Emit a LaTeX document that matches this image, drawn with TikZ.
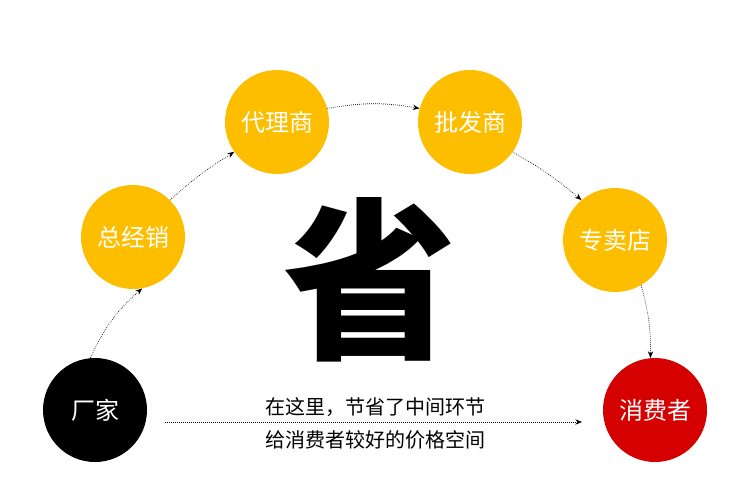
\documentclass[tikz,border=0pt]{standalone}
\usepackage{fontspec}
\setmainfont{Noto Sans CJK SC}
\usetikzlibrary{arrows.meta}
\definecolor{gold}{HTML}{FDBE00}
\definecolor{redc}{HTML}{D50000}
\tikzset{
  ball/.style={circle,minimum size=104\pxu,inner sep=0pt,text=white,font=\fontsize{18}{20}\selectfont},
  link/.style={densely dotted,-{Stealth[length=5pt,width=4pt]},line width=0.5pt}
}
\newlength{\pxu}\setlength{\pxu}{0.75pt}
\begin{document}
\begin{tikzpicture}[x=0.75pt,y=-0.75pt]
\useasboundingbox (0,0) rectangle (750,500);
\node[ball,fill=black] (a) at (95,410) {厂家};
\node[ball,fill=gold] (b) at (133,237) {总经销};
\node[ball,fill=gold] (c) at (277,122) {代理商};
\node[ball,fill=gold] (d) at (470,122) {批发商};
\node[ball,fill=gold] (e) at (615,240) {专卖店};
\node[ball,fill=redc] (f) at (655,410) {消费者};
\node[font=\fontsize{130}{130}\selectfont\bfseries] (s) at (370,280) {省};
\node[font=\fontsize{15}{18}\selectfont] (t1) at (375,407) {在这里，节省了中间环节};
\node[font=\fontsize{15}{18}\selectfont] (t2) at (375,440) {给消费者较好的价格空间};
\coordinate (p1) at (165,422);
\coordinate (p2) at (582,422);
\draw[link] (p1) -- (p2);
\draw[link] (a.95) to[bend left=12] (b.-80);
\draw[link] (b.45) to[bend left=5] (c.215);
\draw[link] (c.15) to[bend left=10] (d.165);
\draw[link] (d.-35) to[bend left=5] (e.130);
\draw[link] (e.-60) to[bend left=8] (f.95);
\end{tikzpicture}
\end{document}
